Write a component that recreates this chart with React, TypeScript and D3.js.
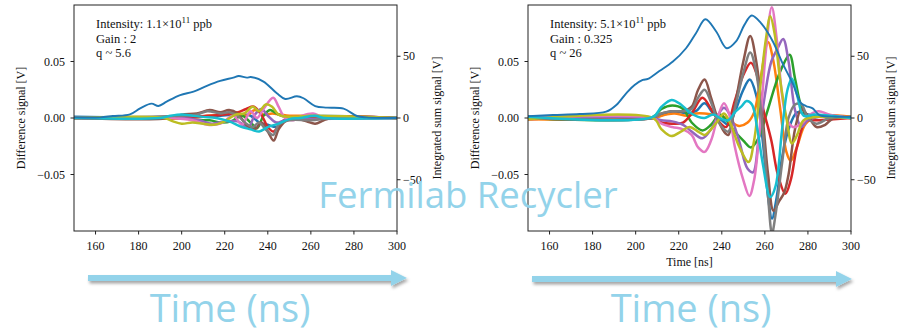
import React from 'react';
import * as d3 from 'd3';

const COLORS = ['#1f77b4', '#ff7f0e', '#2ca02c', '#d62728', '#9467bd', '#8c564b', '#e377c2', '#7f7f7f', '#bcbd22', '#17becf'];
const X_TICKS = [160, 180, 200, 220, 240, 260, 280, 300];
const Y_LEFT_TICKS = [-0.05, 0, 0.05];
const Y_LEFT_LABELS = ['\u22120.05', '0.00', '0.05'];
const Y_RIGHT_TICKS = [-50, 0, 50];
const Y_RIGHT_LABELS = ['\u221250', '0', '50'];

// ---------- Left panel (low intensity) ----------
const L_SUM: [number, number][] = [[150, 0.5], [162, 0.5], [168, 1.6], [176, 3], [180.7, 7.8], [186, 11.6], [189.2, 9.7], [193, 13.2], [199.3, 18.6], [205.5, 21.3], [211.7, 26], [217.9, 30], [224, 32.7], [226.5, 34], [230.3, 32.7], [232.1, 33.2], [238, 29.5], [244.2, 20], [248.1, 15.4], [253.5, 17.6], [256.6, 16], [262, 9.7], [267.5, 8.4], [275.2, 7.6], [281.4, 1.6], [286, 0.5], [300, 0]];
const L_C0: [number, number][] = [[150, 0.001], [200, 0], [210, 0.001], [218, 0.002], [225, 0.003], [232, 0.002], [236, -0.004], [240, -0.006], [244, -0.008], [247, -0.004], [250, 0], [300, 0]];
const L_C1: [number, number][] = [[150, 0], [205, 0], [212, 0.002], [218, 0.003], [225, 0.005], [230, 0.002], [234, 0.007], [238, 0.003], [242, 0.004], [246, 0.003], [250, 0.002], [260, 0.002], [270, 0.001], [285, 0.001], [300, 0]];
const L_C2: [number, number][] = [[150, 0], [200, 0], [207, -0.002], [213, -0.002], [218, -0.004], [223, -0.003], [228, 0.002], [232, -0.004], [235, -0.009], [238, 0.002], [241, 0.007], [244, 0.004], [248, 0.001], [300, 0]];
const L_C3: [number, number][] = [[150, 0], [195, 0], [205, 0.001], [212, 0.002], [220, 0.003], [226, 0.005], [230, 0.008], [233.5, 0.01], [237, 0.003], [240, -0.008], [242.7, -0.012], [246, -0.004], [250, 0], [300, 0]];
const L_C4: [number, number][] = [[150, 0], [200, 0], [208, -0.002], [214, -0.005], [220, -0.003], [226, -0.003], [231, -0.008], [234, 0.003], [237, 0.008], [240, 0.002], [244, -0.004], [248, -0.002], [260, -0.001], [300, 0]];
const L_C5: [number, number][] = [[150, 0], [195, 0], [200, 0.003], [207, 0.004], [213, 0.007], [218, 0.005], [222, 0.007], [226, 0.004], [230, -0.006], [234, -0.01], [237, -0.004], [240, -0.012], [242.7, -0.02], [245, -0.01], [248, -0.003], [252, 0], [258, -0.003], [262, -0.005], [266, -0.002], [270, 0], [300, 0]];
const L_C6: [number, number][] = [[150, 0], [195, 0], [205, -0.002], [212, -0.006], [218, -0.005], [224, 0.002], [228, -0.006], [232, 0.006], [235, 0], [238, 0.008], [242.5, 0.018], [245, 0.01], [248, 0], [252, -0.002], [256, 0.002], [261, 0.004], [265, 0.001], [270, 0], [300, 0]];
const L_C7: [number, number][] = [[150, 0], [200, 0.002], [207, 0.003], [212, 0.006], [218, 0.004], [222, 0.005], [226, 0.002], [230, -0.005], [233, -0.008], [236, -0.004], [239, -0.01], [242.5, -0.015], [245, -0.006], [250, -0.002], [260, -0.002], [270, 0], [300, 0]];
const L_C8: [number, number][] = [[150, 0], [192, 0], [196, -0.003], [200, -0.005], [205, -0.004], [210, -0.005], [215, -0.006], [220, -0.003], [225, 0.003], [229, 0.004], [233, 0.01], [236, 0.006], [239, 0.012], [242, 0.01], [245, 0.003], [250, 0.001], [260, 0.002], [300, 0]];
const L_C9: [number, number][] = [[150, 0], [190, 0], [195, 0.002], [200, 0.003], [205, 0.002], [210, 0.001], [216, 0], [222, -0.003], [228, -0.008], [232, -0.01], [236, -0.012], [240, -0.008], [245, -0.005], [250, -0.001], [255, 0], [262, 0.002], [266, 0], [300, 0]];

// ---------- Right panel (high intensity) ----------
const R_SUM: [number, number][] = [[150, 1.5], [161.6, 2.4], [174, 3.2], [186.3, 5.1], [191, 10.5], [195.6, 20], [199.5, 26.8], [203.3, 30.8], [205.7, 31.6], [211, 38], [217.3, 45.7], [223.4, 56.5], [228, 68.7], [232.4, 80], [237.4, 70], [242.3, 56.5], [246.6, 62], [250.5, 75.4], [253.9, 83], [258.2, 76.8], [263.7, 62], [268.3, 44], [272.9, 28], [276.8, 12], [279.1, 9.7], [282.2, 7.8], [285.3, 2.4], [293, 1], [300, 1]];
const R_C0: [number, number][] = [[150, 0.001], [200, 0.0005], [210, 0.001], [217, 0.006], [224, 0.004], [228, 0.006], [232, 0.013], [236, 0.004], [240, -0.002], [243, -0.006], [246, 0.005], [250, 0.025], [253, 0.034], [256, 0.02], [259, -0.02], [261.5, -0.07], [263.3, -0.089], [265.5, -0.07], [268, -0.035], [271, -0.01], [275, 0.005], [280, 0.003], [290, 0.002], [300, 0.001]];
const R_C1: [number, number][] = [[150, -0.001], [208, 0], [214, 0.003], [218, 0.004], [224, 0.002], [228, 0.004], [232, 0.004], [236, 0.003], [240, 0.002], [244, -0.003], [248, -0.007], [252, -0.004], [255, 0.005], [258, 0.035], [261.5, 0.067], [264, 0.05], [267, 0.01], [270, -0.03], [272, -0.038], [275, -0.025], [279, -0.005], [285, 0.002], [300, 0.001]];
const R_C2: [number, number][] = [[150, 0], [208, 0.001], [212, 0.008], [217, 0.011], [222, 0.008], [226, -0.004], [231, -0.011], [235, -0.006], [239, 0.003], [242, -0.002], [246, -0.012], [250, -0.02], [253.5, -0.026], [257, -0.018], [261, 0.005], [265, 0.03], [268, 0.045], [271.5, 0.056], [274, 0.035], [277, 0.01], [280, 0.002], [290, 0.002], [300, 0]];
const R_C3: [number, number][] = [[150, -0.001], [208, 0], [212, -0.004], [217, -0.005], [222, -0.004], [226, 0.004], [231, 0.018], [235, 0.008], [239, -0.004], [242, -0.008], [246, 0.015], [250, 0.038], [253.5, 0.049], [256, 0.04], [259, 0.01], [263, -0.02], [266, -0.05], [269.5, -0.067], [272, -0.055], [275, -0.025], [279, -0.003], [285, -0.002], [300, 0]];
const R_C4: [number, number][] = [[150, 0], [208, 0], [212, -0.002], [217, -0.003], [222, -0.006], [226, -0.012], [231, -0.018], [235, -0.01], [239, 0.005], [241, 0.009], [244, 0.002], [248, -0.02], [252, -0.045], [254.5, -0.048], [257, -0.02], [260, 0.02], [263, 0.05], [266, 0.062], [268.5, 0.07], [271, 0.05], [274, 0.007], [277, -0.008], [280, -0.002], [290, 0.002], [300, 0]];
const R_C5: [number, number][] = [[150, 0], [208, 0], [212, 0.004], [217, 0.006], [222, 0.006], [226, 0.01], [229, 0.025], [232, 0.034], [235, 0.018], [238, 0], [241, -0.012], [243, -0.015], [246, 0.01], [250, 0.05], [253.2, 0.0726], [256, 0.05], [259, 0], [261.5, -0.05], [264, -0.082], [266.5, -0.074], [269, -0.066], [271, -0.05], [274, -0.01], [277, 0.008], [280, 0.002], [284, -0.008], [288, -0.006], [292, 0], [300, 0]];
const R_C6: [number, number][] = [[150, 0], [208, 0], [212, -0.005], [217, -0.008], [222, -0.01], [226, -0.015], [229, -0.026], [232, -0.03], [235, -0.02], [238, 0], [241, 0.013], [243.5, 0.003], [246, -0.025], [250, -0.055], [252.8, -0.069], [255, -0.055], [258, 0], [260.5, 0.06], [263.2, 0.098], [265.5, 0.07], [268, 0.02], [270, 0], [273, -0.008], [277, -0.005], [281, 0.003], [285, 0.006], [290, 0.003], [300, 0]];
const R_C7: [number, number][] = [[150, 0], [208, 0], [212, 0.004], [217, 0.006], [222, 0.006], [226, 0.008], [229, 0.018], [232, 0.025], [235, 0.014], [238, -0.002], [241, -0.01], [243, -0.012], [246, 0.008], [250, 0.04], [253.2, 0.058], [256, 0.04], [259, -0.01], [261.5, -0.07], [263.3, -0.102], [265, -0.085], [268, -0.04], [271, 0], [274, 0.012], [277, 0.012], [280, 0], [284, -0.005], [290, 0], [300, 0]];
const R_C8: [number, number][] = [[150, -0.001], [208, 0], [212, -0.01], [216.5, -0.016], [221, -0.012], [225, -0.008], [229, -0.012], [232, -0.015], [235, -0.01], [238, -0.003], [241, 0.004], [244, -0.005], [248, -0.025], [252.4, -0.039], [255, -0.02], [258, 0.03], [260.5, 0.07], [262.5, 0.09], [264.5, 0.075], [267, 0.035], [270, 0], [272.6, -0.0225], [275, -0.015], [278, -0.002], [285, 0.001], [300, 0]];
const R_C9: [number, number][] = [[150, 0.001], [208, 0.001], [212, 0.01], [216.7, 0.016], [221, 0.012], [225, 0.005], [229, 0.001], [232, 0], [236, 0.003], [240, -0.001], [243, -0.002], [246, 0.005], [249, 0.01], [251.5, 0.015], [254, 0.012], [256.5, -0.01], [259, -0.04], [262.5, -0.07], [265, -0.06], [268, -0.01], [270.5, 0.025], [272.5, 0.035], [275, 0.02], [278, 0.002], [283, 0.003], [290, 0.002], [300, 0]];

const LEFT_DIFF = [L_C0, L_C1, L_C2, L_C3, L_C4, L_C5, L_C6, L_C7, L_C8, L_C9];
const RIGHT_DIFF = [R_C0, R_C1, R_C2, R_C3, R_C4, R_C5, R_C6, R_C7, R_C8, R_C9];

const SERIF = "'Liberation Serif', 'Times New Roman', serif";
const SANS = "'Open Sans', 'Noto Sans', sans-serif";
const OVERLAY = '#93d3ea';

type PanelProps = {
  id: string;
  x0: number;
  diff: [number, number][][];
  sum: [number, number][];
  intensity: string;
  gain: string;
  q: string;
  xlabel: boolean;
};

function Panel({ id, x0, diff, sum, intensity, gain, q, xlabel }: PanelProps) {
  const W = 323;
  const H = 226;
  const top = 5;
  const x = d3.scaleLinear().domain([150, 300]).range([x0, x0 + W]);
  const y = d3.scaleLinear().domain([-0.1, 0.1]).range([top + H, top]);
  const y2 = d3.scaleLinear().domain([-91.5, 91.5]).range([top + H, top]);
  const line = d3.line<[number, number]>().x(d => x(d[0])).y(d => y(d[1])).curve(d3.curveCatmullRom.alpha(0.5));
  const line2 = d3.line<[number, number]>().x(d => x(d[0])).y(d => y2(d[1])).curve(d3.curveCatmullRom.alpha(0.5));
  const fs = 12;
  return (
    <g>
      <defs>
        <clipPath id={id}>
          <rect x={x0} y={top} width={W} height={H} />
        </clipPath>
      </defs>
      <g clipPath={`url(#${id})`}>
        {diff.map((s, i) => (
          <path key={i} d={line(s) || ''} fill="none" stroke={COLORS[i]} strokeWidth={2.5} strokeLinejoin="round" />
        ))}
        <path d={line2(sum) || ''} fill="none" stroke={COLORS[0]} strokeWidth={1.9} strokeLinejoin="round" />
      </g>
      <rect x={x0} y={top} width={W} height={H} fill="none" stroke="#222" strokeWidth={1} />
      {X_TICKS.map(t => (
        <g key={t}>
          <line x1={x(t)} x2={x(t)} y1={top + H} y2={top + H + 3.5} stroke="#222" />
          <text x={x(t)} y={top + H + 19} textAnchor="middle" fontFamily={SERIF} fontSize={fs} fill="#111">{t}</text>
        </g>
      ))}
      {Y_LEFT_TICKS.map((t, i) => (
        <g key={t}>
          <line x1={x0 - 3.5} x2={x0} y1={y(t)} y2={y(t)} stroke="#222" />
          <text x={x0 - 9} y={y(t) + 4} textAnchor="end" fontFamily={SERIF} fontSize={fs} fill="#111">{Y_LEFT_LABELS[i]}</text>
        </g>
      ))}
      {Y_RIGHT_TICKS.map((t, i) => (
        <g key={t}>
          <line x1={x0 + W} x2={x0 + W + 3.5} y1={y2(t)} y2={y2(t)} stroke="#222" />
          <text x={x0 + W + 6} y={y2(t) + 4} textAnchor="start" fontFamily={SERIF} fontSize={fs} fill="#111">{Y_RIGHT_LABELS[i]}</text>
        </g>
      ))}
      <text transform={`translate(${x0 - 49},${top + H / 2}) rotate(-90)`} textAnchor="middle" fontFamily={SERIF} fontSize={fs} fill="#111">Difference signal [V]</text>
      <text transform={`translate(${x0 + W + 44},${top + H / 2}) rotate(-90)`} textAnchor="middle" fontFamily={SERIF} fontSize={fs} fill="#111">Integrated sum signal [V]</text>
      {xlabel && (
        <text x={x0 + W / 2} y={top + H + 35} textAnchor="middle" fontFamily={SERIF} fontSize={fs} fill="#111">Time [ns]</text>
      )}
      <text x={x0 + 22} y={28} fontFamily={SERIF} fontSize={12.5} fill="#111">
        {`Intensity: ${intensity}\u00d710`}
        <tspan dy={-5} fontSize={9}>11</tspan>
        <tspan dy={5}>{' ppb'}</tspan>
      </text>
      <text x={x0 + 22} y={43} fontFamily={SERIF} fontSize={12.5} fill="#111">{`Gain : ${gain}`}</text>
      <text x={x0 + 22} y={57} fontFamily={SERIF} fontSize={12.5} fill="#111">{`q ~ ${q}`}</text>
    </g>
  );
}

function Arrow({ x1, x2, yc }: { x1: number; x2: number; yc: number }) {
  const head = 16;
  const d = `M${x1},${yc - 3} L${x2 - head},${yc - 3} L${x2 - head},${yc - 8} L${x2},${yc} L${x2 - head},${yc + 8} L${x2 - head},${yc + 3} L${x1},${yc + 3} Z`;
  return <path d={d} fill={OVERLAY} filter="url(#shadow)" />;
}

export default function App() {
  return (
    <svg width={907} height={330} style={{ position: 'absolute', left: 0, top: 0, background: '#fff' }}>
      <defs>
        <filter id="shadow" x="-10%" y="-100%" width="120%" height="300%">
          <feDropShadow dx={1.5} dy={2.5} stdDeviation={1.5} floodColor="#000" floodOpacity={0.35} />
        </filter>
      </defs>
      <rect x={0} y={0} width={907} height={330} fill="#fff" />
      <Panel id="clipL" x0={74} diff={LEFT_DIFF} sum={L_SUM} intensity="1.1" gain="2" q="5.6" xlabel={false} />
      <Panel id="clipR" x0={528} diff={RIGHT_DIFF} sum={R_SUM} intensity="5.1" gain="0.325" q="26" xlabel={true} />
      <text x={468} y={208} textAnchor="middle" fontFamily={SANS} fontSize={36.5} fill={OVERLAY}>Fermilab Recycler</text>
      <Arrow x1={88} x2={407} yc={278} />
      <Arrow x1={532} x2={852} yc={279} />
      <text x={230} y={322} textAnchor="middle" fontFamily={SANS} fontSize={38} fill={OVERLAY}>Time (ns)</text>
      <text x={691} y={322} textAnchor="middle" fontFamily={SANS} fontSize={38} fill={OVERLAY}>Time (ns)</text>
    </svg>
  );
}
